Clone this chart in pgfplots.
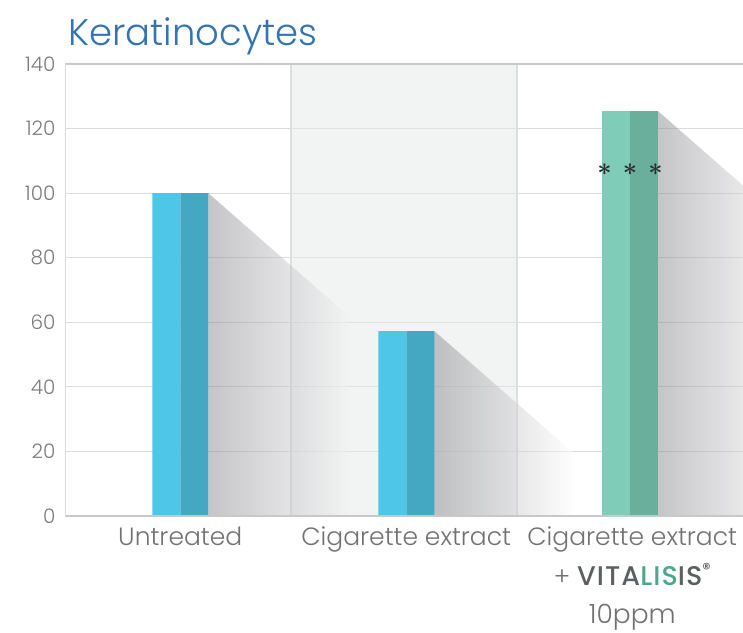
\documentclass[border=0pt]{standalone}
\usepackage{pgfplots}
\pgfplotsset{compat=1.18}
\usepackage{fontspec}
\setmainfont{Poppins}[UprightFont={* Light}, BoldFont={* Medium}]
\definecolor{lblue}{HTML}{4EC6E8}
\definecolor{dblue}{HTML}{44A8C2}
\definecolor{lgreen}{HTML}{7FCDB8}
\definecolor{dgreen}{HTML}{6AAF9B}
\definecolor{titleblue}{HTML}{3274B4}
\definecolor{tickgray}{HTML}{7C7C7C}
\definecolor{labgray}{HTML}{727272}
\definecolor{vitgray}{HTML}{5C6060}
\definecolor{vitgreen}{HTML}{4DA88A}
\definecolor{gridgray}{HTML}{DCDCDC}
\definecolor{bggray}{HTML}{E5E7E7}
\definecolor{bgmid}{HTML}{F2F3F3}
\definecolor{axgray}{HTML}{C8C8C8}
\definecolor{shadowgray}{HTML}{8C8C92}
\begin{document}
\begin{tikzpicture}
\path[use as bounding box] (-65pt,-116pt) rectangle (678pt,516pt);
\begin{axis}[
  at={(0,0)}, anchor=south west,
  scale only axis, width=678pt, height=452pt,
  xmin=-0.5, xmax=2.5, ymin=0, ymax=140,
  axis line style={draw=none},
  ytick={0,20,...,140},
  xtick={0.01,1.01,2.01},
  xticklabels={Untreated, Cigarette extract, {Cigarette extract\\[1pt]+ {\fontsize{27}{30}\selectfont\bfseries\color{vitgray}\addfontfeatures{LetterSpace=4}VITA\textcolor{vitgreen}{LIS}IS}\raisebox{0.8ex}{\fontsize{16}{16}\selectfont\bfseries\color{vitgray}\textregistered}\\[-1pt]{\fontsize{26.5}{30}\selectfont 10ppm}}},
  major tick length=0pt,
  ymajorgrids,
  grid style={gridgray, line width=1.1pt},
  extra x ticks={0.5,1.5},
  extra x tick labels={},
  extra x tick style={xmajorgrids, grid style={gridgray, line width=1.5pt}},
  /pgf/number format/assume math mode=true,
  yticklabel style={font=\fontsize{20}{22}\selectfont, text=tickgray, xshift=-6pt},
  xticklabel style={font=\fontsize{25}{39}\selectfont, text=labgray, align=center, anchor=north, yshift=-7pt},
]
% middle background
\addplot[fill=bggray, fill opacity=0.5, draw=none] coordinates {(0.5,140) (1.5,140)} \closedcycle;
% shadows
\addplot[draw=none, fill opacity=0.5, left color=shadowgray, right color=bgmid] coordinates {(0.134,100) (0.754,62)} \closedcycle;
\addplot[draw=none, fill opacity=0.5, left color=shadowgray, right color=white] coordinates {(1.134,57.3) (1.754,19.3)} \closedcycle;
\addplot[draw=none, fill opacity=0.5, left color=shadowgray, right color=white] coordinates {(2.124,125.4) (2.744,87.4)} \closedcycle;
% bars
\addplot[ybar, bar width=28pt, bar shift=-14pt, fill=lblue, draw=none] coordinates {(0.01,100) (1.01,57.3)};
\addplot[ybar, bar width=28pt, bar shift=14pt, fill=dblue, draw=none] coordinates {(0.01,100) (1.01,57.3)};
\addplot[ybar, bar width=28pt, bar shift=-14pt, fill=lgreen, draw=none] coordinates {(2,125.4)};
\addplot[ybar, bar width=28pt, bar shift=14pt, fill=dgreen, draw=none] coordinates {(2,125.4)};
\node[font=\fontsize{28}{28}\selectfont\boldmath, text=black!82] at (axis cs:2,107.2) {$\ast\,\ast\,\ast$};
% axis lines
\draw[axgray, line width=2.5pt] (rel axis cs:0,0) -- (rel axis cs:1,0);
\draw[axgray, line width=2.5pt] (rel axis cs:0,1) -- (rel axis cs:1,1);
\draw[gridgray, line width=1.5pt] (rel axis cs:0,0) -- (rel axis cs:0,1);
\end{axis}
\node[anchor=base west, text=titleblue, font=\fontsize{37}{40}\selectfont, inner sep=0pt] at (3pt,470pt) {Keratinocytes};
\end{tikzpicture}
\end{document}
